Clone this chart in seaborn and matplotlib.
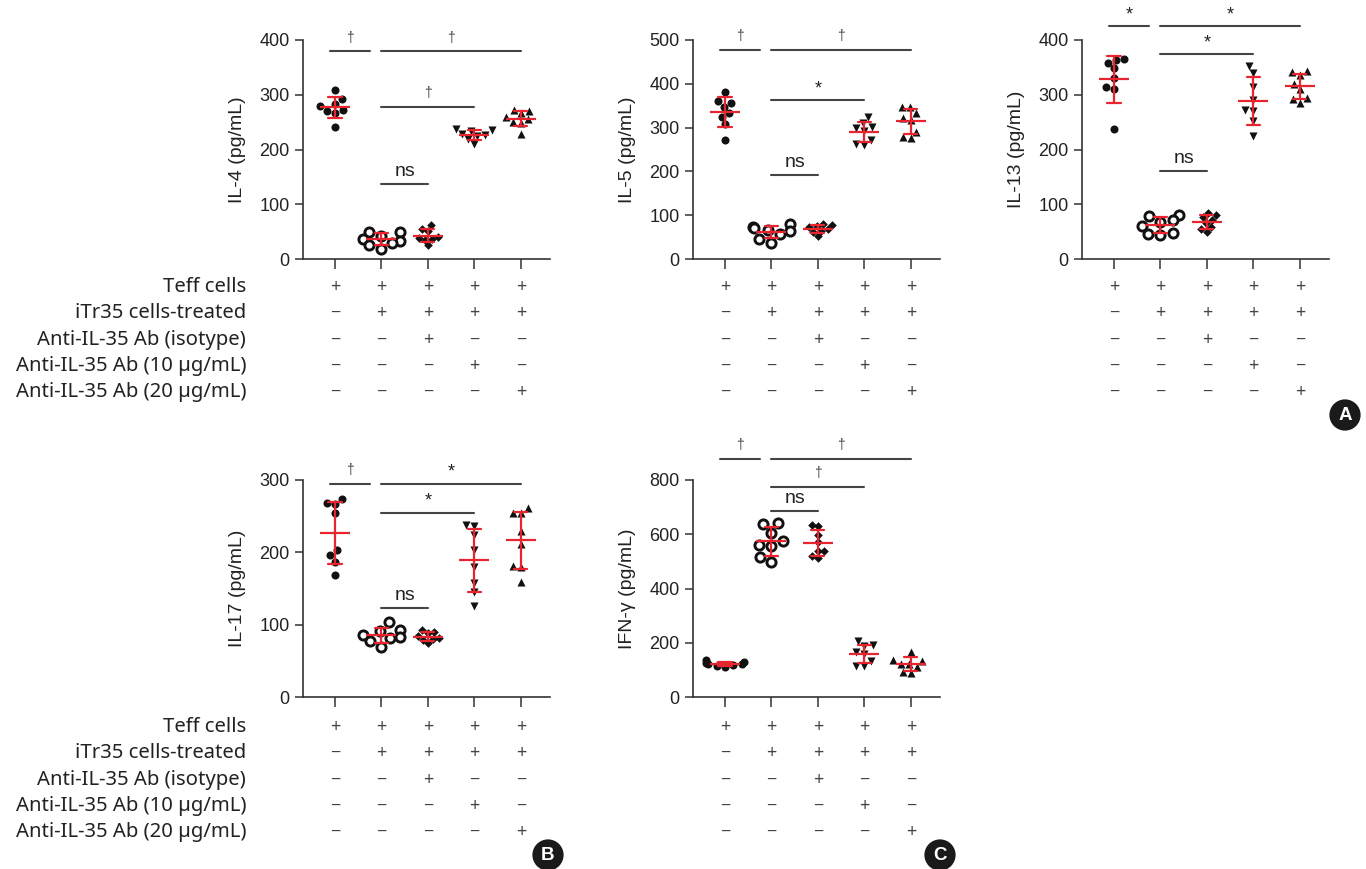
import numpy as np
import pandas as pd
import matplotlib
matplotlib.use("Agg")
import matplotlib.pyplot as plt
import seaborn as sns
from matplotlib.transforms import blended_transform_factory

# ---------------- data ----------------
groups = ["Teff", "Teff+iTr35", "Teff+iTr35+isotype", "Teff+iTr35+Ab10", "Teff+iTr35+Ab20"]

il4 = [[309, 292, 283, 279, 272, 270, 267, 242],
       [50, 49, 42, 37, 33, 30, 26, 19],
       [62, 54, 52, 40, 38, 36, 35, 25],
       [237, 236, 234, 229, 226, 224, 219, 210],
       [273, 270, 266, 260, 255, 250, 248, 229]]
il5 = [[382, 361, 357, 348, 334, 325, 308, 272],
       [80, 74, 70, 67, 63, 58, 45, 37],
       [80, 77, 75, 72, 68, 65, 62, 53],
       [325, 310, 301, 298, 292, 272, 262, 260],
       [348, 347, 333, 321, 318, 291, 278, 276]]
il13 = [[366, 364, 358, 348, 330, 314, 310, 237],
        [80, 79, 72, 68, 60, 48, 46, 44],
        [84, 81, 76, 72, 66, 58, 54, 49],
        [352, 340, 315, 290, 272, 270, 252, 224],
        [343, 341, 336, 320, 310, 294, 292, 285]]
il17 = [[274, 268, 267, 255, 203, 196, 187, 168],
        [103, 93, 91, 86, 83, 81, 77, 69],
        [92, 90, 88, 84, 82, 80, 79, 74],
        [238, 237, 224, 203, 180, 158, 145, 126],
        [261, 255, 254, 230, 211, 181, 180, 159]]
ifng = [[135, 130, 125, 122, 120, 118, 115, 112],
        [642, 638, 604, 576, 560, 555, 515, 497],
        [633, 630, 596, 570, 540, 538, 521, 512],
        [205, 190, 188, 165, 158, 133, 116, 114],
        [167, 136, 134, 122, 120, 110, 92, 90]]

ylabels = ["IL-4 (pg/mL)", "IL-5 (pg/mL)", "IL-13 (pg/mL)", "IL-17 (pg/mL)", "IFN-\u03b3 (pg/mL)"]
ymax = [400, 500, 400, 300, 800]
ystep = [100, 100, 100, 100, 200]

# significance brackets: (group i, group j, height, label)
sig_il4 = [(0, 1, 379, "\u2020"), (1, 4, 379, "\u2020"), (1, 3, 277, "\u2020"), (1, 2, 137, "ns")]
sig_il5 = [(0, 1, 477, "\u2020"), (1, 4, 477, "\u2020"), (1, 3, 362, "*"), (1, 2, 191, "ns")]
sig_il13 = [(0, 1, 426, "*"), (1, 4, 426, "*"), (1, 3, 374, "*"), (1, 2, 161, "ns")]
sig_il17 = [(0, 1, 295, "\u2020"), (1, 4, 295, "*"), (1, 3, 255, "*"), (1, 2, 123, "ns")]
sig_ifng = [(0, 1, 876, "\u2020"), (1, 4, 876, "\u2020"), (1, 3, 775, "\u2020"), (1, 2, 685, "ns")]

row_labels = ["Teff cells", "iTr35 cells-treated", "Anti-IL-35 Ab (isotype)",
              "Anti-IL-35 Ab (10 \u00b5g/mL)", "Anti-IL-35 Ab (20 \u00b5g/mL)"]
signs = [["+", "+", "+", "+", "+"],
         ["\u2212", "+", "+", "+", "+"],
         ["\u2212", "\u2212", "+", "\u2212", "\u2212"],
         ["\u2212", "\u2212", "\u2212", "+", "\u2212"],
         ["\u2212", "\u2212", "\u2212", "\u2212", "+"]]

# ---------------- style ----------------
sns.set_style("ticks")
plt.rcParams["font.family"] = ["Liberation Sans", "DejaVu Sans"]

W, H = 1366, 869
fig = plt.figure(figsize=(W / 100, H / 100), dpi=100)

def fx(px):
    return px / W

def fy(py):
    return 1 - py / H

marker_styles = [
    dict(marker="o", color="#111111", size=5.8, linewidth=0),
    dict(marker="o", color="white", edgecolor="#111111", size=6.6, linewidth=2.1),
    dict(marker="D", color="#111111", size=4.4, linewidth=0),
    dict(marker="v", color="#111111", size=5.8, linewidth=0),
    dict(marker="^", color="#111111", size=5.8, linewidth=0),
]

panels = [
    (il4, sig_il4, 303, 40, 259),
    (il5, sig_il5, 693, 40, 259),
    (il13, sig_il13, 1082, 40, 259),
    (il17, sig_il17, 303, 480, 697),
    (ifng, sig_ifng, 693, 480, 697),
]

red = "#e8252f"
gray = "#444444"

for k, (vals, sigs, left_px, top_px, bot_px) in enumerate(panels):
    ax = fig.add_axes([fx(left_px), fy(bot_px), 247 / W, (bot_px - top_px) / H])
    df = pd.DataFrame({
        "group": np.repeat(groups, [len(v) for v in vals]),
        "value": np.concatenate([np.asarray(v, float) for v in vals]),
    })
    for gi, g in enumerate(groups):
        sub = df[df["group"] == g]
        st = marker_styles[gi]
        sns.swarmplot(data=sub, x="group", y="value", order=groups, ax=ax,
                      zorder=3, **st)
    sns.pointplot(data=df, x="group", y="value", order=groups, ax=ax,
                  errorbar="sd", capsize=0.28, color=red, linestyle="none",
                  marker="_", markersize=22, markeredgewidth=1.6,
                  err_kws={"linewidth": 1.6, "zorder": 6}, zorder=7)
    ax.set_xlim(-0.688, 4.624)
    ax.set_ylim(0, ymax[k])
    ax.set_yticks(np.arange(0, ymax[k] + 1, ystep[k]))
    ax.set_xticks(range(5))
    ax.set_xticklabels([])
    ax.set_xlabel("")
    ax.set_ylabel(ylabels[k], fontsize=14, color="#222222", labelpad=10)
    ax.tick_params(axis="y", labelsize=13, length=6, width=1.1, colors="#333333",
                   labelcolor="#222222")
    ax.tick_params(axis="x", length=7, width=1.1, colors="#333333")
    sns.despine(ax=ax)
    for s in ["left", "bottom"]:
        ax.spines[s].set_color("#333333")
        ax.spines[s].set_linewidth(1.2)

    # significance brackets
    for (i, j, yv, lab) in sigs:
        x0, x1 = (i - 0.1, j - 0.25) if i == 0 else (i, j)
        ax.plot([x0, x1], [yv, yv], color=gray, lw=1.5, clip_on=False, zorder=4)
        if lab == "ns":
            ax.annotate(lab, ((x0 + x1) / 2, yv), xytext=(0, 3), textcoords="offset points",
                        ha="center", va="bottom", fontsize=14, color="#222222",
                        annotation_clip=False)
        elif lab == "*":
            ax.annotate(lab, ((x0 + x1) / 2, yv), xytext=(0, 2), textcoords="offset points",
                        ha="center", va="bottom", fontsize=13, color="#222222",
                        annotation_clip=False)
        else:
            ax.annotate(lab, ((x0 + x1) / 2, yv), xytext=(0, 5), textcoords="offset points",
                        ha="center", va="bottom", fontsize=10, color=gray,
                        annotation_clip=False)

    # treatment table under each axis
    row_y0 = 287 if bot_px < 400 else 727
    trans = blended_transform_factory(ax.transData, fig.transFigure)
    for r in range(5):
        ypx = row_y0 + r * 26.3
        for c in range(5):
            ax.text(c, fy(ypx), signs[r][c], transform=trans, ha="center", va="center",
                    fontsize=13, color="#444444", family=["Noto Sans", "DejaVu Sans"])
        if left_px == 303:
            fig.text(fx(246), fy(ypx), row_labels[r], ha="right", va="center",
                     fontsize=14.6, color="#222222", family=["Noto Sans", "DejaVu Sans"])

# panel letters
for lab, (px, py) in {"A": (1345, 415), "B": (548, 855), "C": (940, 855)}.items():
    fig.text(fx(px), fy(py), lab, ha="center", va="center", fontsize=13.5, fontweight="bold",
             color="white",
             bbox=dict(boxstyle="circle,pad=0.38", facecolor="#1a1a1a", edgecolor="none"))

fig.savefig("out.png", dpi=100)
